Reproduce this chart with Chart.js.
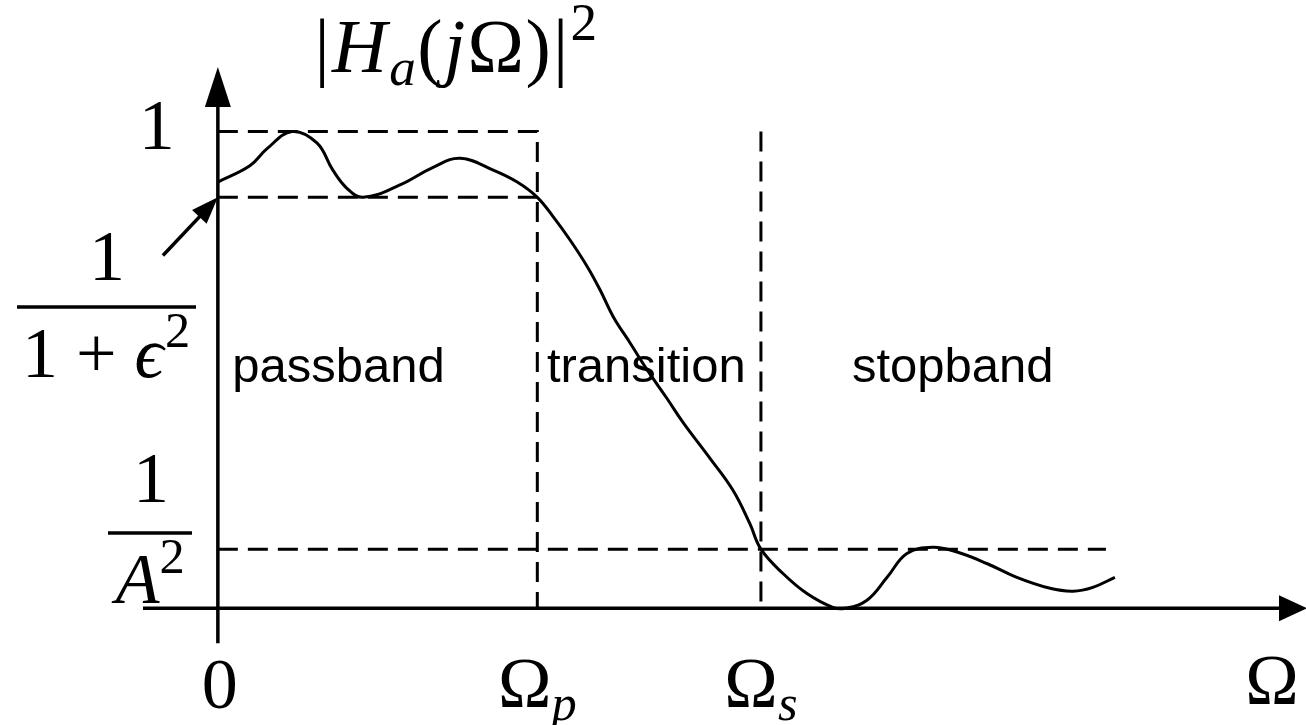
<!DOCTYPE html>
<html>
<head>
<meta charset="utf-8">
<title>Lowpass magnitude specification</title>
<script src="https://cdn.jsdelivr.net/npm/chart.js@4.4.1/dist/chart.umd.min.js"></script>
<style>
  html, body { margin: 0; padding: 0; background: #fff; }
  #wrap { width: 1306px; height: 725px; position: relative; }
</style>
</head>
<body>
<div id="wrap"><canvas id="response"></canvas></div>
<script>
// frequency normalised to the passband edge (Ω / Ωp) and squared magnitude
const omega = [0, 0.100, 0.154, 0.232, 0.310, 0.360, 0.404, 0.455, 0.570, 0.674, 0.759,
  0.862, 0.937, 1.000, 1.050, 1.103, 1.157, 1.197, 1.238, 1.291, 1.344, 1.406, 1.456,
  1.540, 1.612, 1.665, 1.700, 1.769, 1.844, 1.925, 1.963, 2.032, 2.095, 2.157, 2.238,
  2.314, 2.407, 2.501, 2.605, 2.677, 2.739, 2.808];
const magSq = [0.894, 0.928, 0.964, 1.000, 0.976, 0.919, 0.881, 0.862, 0.888, 0.925, 0.944,
  0.919, 0.894, 0.862, 0.821, 0.772, 0.716, 0.667, 0.611, 0.556, 0.500, 0.440, 0.390,
  0.315, 0.248, 0.178, 0.124, 0.073, 0.031, 0.002, 0.000, 0.017, 0.065, 0.115, 0.128,
  0.118, 0.094, 0.065, 0.042, 0.036, 0.044, 0.065];

// band edges and tolerance levels
const passEdge = 1.0;     // Ωp
const stopEdge = 1.7;     // Ωs
const passMin = 0.862;    // 1/(1+ε²)
const stopMax = 0.124;    // 1/A²
const stopLineEnd = 2.78;
const bandNames = ['passband', 'transition', 'stopband'];
const bandStart = [0.045, 1.03, 1.985];

const SERIF = "'Liberation Serif', 'DejaVu Serif', serif";
const SANS = "'Liberation Sans', Arial, sans-serif";

function serifFont(size, italic) {
  return (italic ? 'italic ' : '') + size + 'px ' + SERIF;
}

// draws a row of text pieces (roman, italic, sub/superscripts) on one baseline
function drawRuns(ctx, runs, x, y, size, align) {
  let total = 0;
  const parts = runs.map(r => {
    const s = size * (r.sc || 1);
    ctx.font = serifFont(s, r.it);
    const w = ctx.measureText(r.t).width + (r.dx || 0) * size;
    total += w;
    return { r, s, w };
  });
  let cx = align === 'center' ? x - total / 2 : align === 'right' ? x - total : x;
  parts.forEach(p => {
    ctx.font = serifFont(p.s, p.r.it);
    ctx.fillText(p.r.t, cx, y + (p.r.dy || 0) * size);
    cx += p.w;
  });
  return total;
}

function arrowHead(ctx, tipX, tipY, angle, len, half) {
  ctx.save();
  ctx.translate(tipX, tipY);
  ctx.rotate(angle);
  ctx.beginPath();
  ctx.moveTo(0, 0);
  ctx.lineTo(-len, -half);
  ctx.lineTo(-len, half);
  ctx.closePath();
  ctx.fill();
  ctx.restore();
}

const annotations = {
  id: 'annotations',
  afterDatasetsDraw(chart) {
    const { ctx, scales: { x, y } } = chart;
    const x0 = x.getPixelForValue(0);
    const y0 = y.getPixelForValue(0);
    ctx.save();
    ctx.fillStyle = '#000';
    ctx.strokeStyle = '#000';
    ctx.lineCap = 'butt';

    // axes with arrow heads
    ctx.lineWidth = 3.5;
    ctx.beginPath();
    ctx.moveTo(143, y0);
    ctx.lineTo(chart.width - 20, y0);
    ctx.moveTo(x0, y0 + 35);
    ctx.lineTo(x0, 100);
    ctx.stroke();
    arrowHead(ctx, chart.width + 1, y0, 0, 28, 13);
    arrowHead(ctx, x0, 67, -Math.PI / 2, 40, 13);

    // pointer to the passband floor
    const tx = x.getPixelForValue(-0.172), ty = y.getPixelForValue(0.74);
    const hx = x0, hy = y.getPixelForValue(passMin);
    const ang = Math.atan2(hy - ty, hx - tx);
    ctx.lineWidth = 3.5;
    ctx.beginPath();
    ctx.moveTo(tx, ty);
    ctx.lineTo(hx - 20 * Math.cos(ang), hy - 20 * Math.sin(ang));
    ctx.stroke();
    arrowHead(ctx, hx, hy, ang, 27, 10);

    ctx.textBaseline = 'alphabetic';
    const S = 72;

    // vertical axis title
    drawRuns(ctx, [
      { t: '|', dx: 0.03 }, { t: 'H', it: true, dx: 0.03 }, { t: 'a', it: true, sc: 0.7, dy: 0.17, dx: 0.02 },
      { t: '(', dx: 0.02 }, { t: 'j', it: true, dx: 0.03 }, { t: 'Ω', dx: 0.02 }, { t: ')', dx: 0.03 }, { t: '|', dx: 0.03 },
      { t: '2', sc: 0.7, dy: -0.42 }
    ], x0 + 238, 72, 76, 'center');

    // level "1"
    drawRuns(ctx, [{ t: '1' }], x0 - 61, y.getPixelForValue(1) + 17, S, 'center');

    // 1 / (1 + ε²)
    ctx.lineWidth = 3.5;
    const fy = 307;
    ctx.beginPath();
    ctx.moveTo(17, fy);
    ctx.lineTo(196, fy);
    ctx.stroke();
    drawRuns(ctx, [{ t: '1' }], 107, fy - 27, S, 'center');
    drawRuns(ctx, [{ t: '1 + ' }, { t: 'ϵ', it: true, dx: 0.02 }, { t: '2', sc: 0.7, dy: -0.42 }],
      106, fy + 70, S, 'center');

    // 1 / A²
    const ay = 533;
    ctx.beginPath();
    ctx.moveTo(108, ay);
    ctx.lineTo(192, ay);
    ctx.stroke();
    drawRuns(ctx, [{ t: '1' }], 151, ay - 31, S, 'center');
    drawRuns(ctx, [{ t: 'A', it: true }, { t: '2', sc: 0.7, dy: -0.42 }], 150, ay + 70, S, 'center');

    // frequency marks
    const fb = y0 + 99;
    drawRuns(ctx, [{ t: '0' }], x0 + 2, fb + 1, S, 'center');
    drawRuns(ctx, [{ t: 'Ω' }, { t: 'p', it: true, sc: 0.7, dy: 0.17 }], x.getPixelForValue(passEdge), fb, S, 'center');
    drawRuns(ctx, [{ t: 'Ω' }, { t: 's', it: true, sc: 0.7, dy: 0.17 }], x.getPixelForValue(stopEdge), fb, S, 'center');
    drawRuns(ctx, [{ t: 'Ω' }], 1272, fb - 3, S, 'center');

    // band names
    ctx.font = '49px ' + SANS;
    ctx.textAlign = 'left';
    bandNames.forEach((name, i) => {
      ctx.fillText(name, x.getPixelForValue(bandStart[i]), y.getPixelForValue(0.474));
    });
    ctx.restore();
  }
};

const dashed = { borderColor: '#000', borderWidth: 3, borderDash: [20, 10], pointRadius: 0, showLine: true, fill: false };

new Chart(document.getElementById('response'), {
  type: 'scatter',
  data: {
    datasets: [
      { ...dashed, data: [{ x: 0, y: 1 }, { x: passEdge, y: 1 }, { x: passEdge, y: 0 }] },
      { ...dashed, data: [{ x: 0, y: passMin }, { x: passEdge, y: passMin }] },
      { ...dashed, data: [{ x: stopEdge, y: 1 }, { x: stopEdge, y: 0 }] },
      { ...dashed, data: [{ x: 0, y: stopMax }, { x: stopLineEnd, y: stopMax }] },
      {
        data: omega.map((w, i) => ({ x: w, y: magSq[i] })),
        showLine: true,
        borderColor: '#000',
        borderWidth: 3,
        pointRadius: 0,
        tension: 0.4,
        fill: false
      }
    ]
  },
  options: {
    responsive: true,
    maintainAspectRatio: false,
    animation: false,
    layout: { padding: { left: 138, right: 2, top: 60, bottom: 69 } },
    plugins: { legend: { display: false }, tooltip: { enabled: false } },
    scales: {
      x: { type: 'linear', min: -0.25, max: 3.4, display: false },
      y: { type: 'linear', min: -0.1, max: 1.15, display: false }
    }
  },
  plugins: [annotations]
});
</script>
</body>
</html>
